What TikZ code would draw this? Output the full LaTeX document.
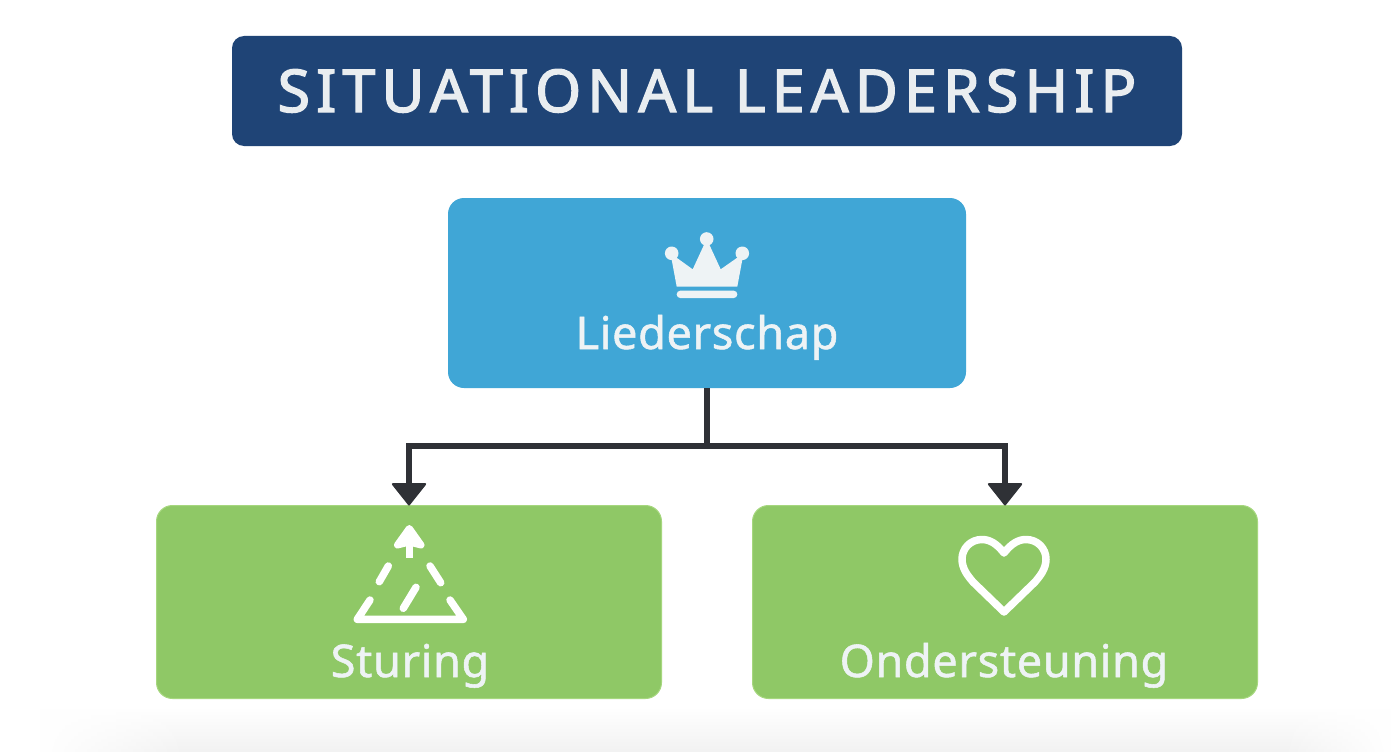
\documentclass[tikz,border=0pt]{standalone}
\usepackage{fontspec}
\setmainfont{Noto Sans}
\newfontfamily\titlefont[LetterSpace=10.5,FakeBold=2.4]{Noto Sans}
\newfontfamily\labelfont[LetterSpace=1.5,FakeBold=1.2]{Noto Sans}
\usetikzlibrary{arrows.meta,fadings,calc}
\definecolor{navy}{HTML}{1F4476}
\definecolor{skyb}{HTML}{40A6D6}
\definecolor{leaf}{HTML}{8FC866}
\definecolor{leafedge}{HTML}{A6D77E}
\definecolor{ink}{HTML}{2F3136}
\definecolor{paper}{HTML}{EEF3F5}
\definecolor{titleink}{HTML}{E9EDF0}
\tikzfading[name=upfade, top color=transparent!100, bottom color=transparent!0]
\tikzfading[name=sidefade, left color=transparent!0, right color=transparent!100]
\tikzfading[name=sidefader, left color=transparent!100, right color=transparent!0]
\tikzset{
  box/.style={inner sep=0pt, outer sep=0pt, rounded corners=16pt, minimum width=#1},
  lead/.style={box=518pt, minimum height=190pt, fill=skyb},
  sub/.style={box=505pt, minimum height=193pt, fill=leaf, draw=leafedge, line width=1pt},
  banner/.style={box=950pt, minimum height=110pt, fill=navy, rounded corners=12pt},
  lbl/.style={text=paper, inner sep=0pt, font=\labelfont\fontsize{45pt}{50pt}\selectfont, anchor=base},
  ttl/.style={text=titleink, inner sep=0pt, font=\titlefont\fontsize{59pt}{62pt}\selectfont, anchor=base},
  stem/.style={draw=ink, line width=6pt},
  conn/.style={stem, -{Triangle[length=23pt,width=36pt,round,line width=2pt]}},
  iconline/.style={draw=white, line cap=round, line join=round, line width=7.5pt},
  iconfill/.style={fill=white, draw=white, line join=round},
}
\begin{document}
\begin{tikzpicture}[x=1pt,y=-1pt]
\useasboundingbox (0,0) rectangle (1392,752);
\fill[white] (0,0) rectangle (1392,752);
% soft floor shadow
\fill[black!5, path fading=upfade] (0,708) rectangle (1392,752);
\fill[white] (0,700) rectangle (40,752);
\fill[white, path fading=sidefade] (40,700) rectangle (190,752);
\fill[white, path fading=sidefader] (1280,700) rectangle (1392,752);
% boxes
\node[banner] (title) at (707,91) {};
\node[lead] (leader) at (707,293) {};
\node[sub] (sturing) at (409,602) {};
\node[sub] (onder) at (1005,602) {};
% texts
\node[ttl] (titletext) at (707,112) {SITUATIONAL LEADERSHIP};
\node[lbl] (leadertext) at (707,349) {Liederschap};
\node[lbl] (sturingtext) at (410,677) {Sturing};
\node[lbl] (ondertext) at (1004,677) {Ondersteuning};
% connectors
\draw[stem] (leader.south) -- ($(leader.south)+(0,58)$) coordinate (split);
\draw[conn] (split) -| (sturing.north);
\draw[conn] (split) -| (onder.north);
% crown
\fill[paper] (676.7,286.7) -- (670.5,253.3) -- (692.7,269.3) -- (706.7,239) -- (720.7,269.3) -- (743.5,253.3) -- (737.3,286.7) -- cycle;
\fill[paper] (706.7,239) circle (6.8pt) (671.7,253.3) circle (6.8pt) (742.3,253.3) circle (6.8pt);
\fill[paper, rounded corners=3.5pt] (676.7,290.7) rectangle (737.3,298);
% triangle
\fill[iconfill, line width=7pt] (397.5,545) -- (409.3,528.5) -- (421,545) -- (409.3,542) -- cycle;
\draw[iconline, line cap=butt] (409.3,540) -- (409.3,558);
\draw[iconline] (388.3,566) -- (379.3,581.7);
\draw[iconline] (430,566) -- (440.7,582.7);
\draw[iconline] (416,587.3) -- (403.3,608.3);
\draw[iconline] (370,600) -- (357.3,619.3) -- (463.3,619.3) -- (450,600);
% heart
\draw[iconline] (1004,553) .. controls (997,544) and (990,539.5) .. (982,539.5)
  .. controls (970,539.5) and (962,549) .. (962,559)
  .. controls (962,569) and (968,576) .. (973,582) -- (1004,612) -- (1035,582)
  .. controls (1040,576) and (1046,569) .. (1046,559)
  .. controls (1046,549) and (1038,539.5) .. (1026,539.5)
  .. controls (1018,539.5) and (1011,544) .. cycle;
\end{tikzpicture}
\end{document}
